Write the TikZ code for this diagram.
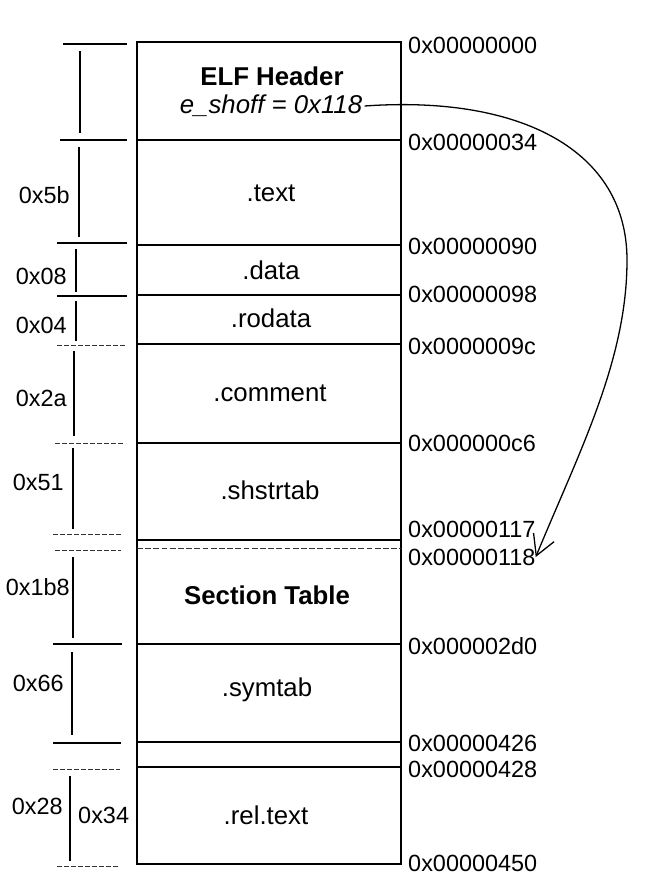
\documentclass[tikz,border=0pt]{standalone}
\usepackage{fontspec}
\setmainfont{Liberation Sans}
\usetikzlibrary{arrows.meta}
\begin{document}
\begin{tikzpicture}
    \def\dx{0.3mm}
    \def\dy{0.3mm}

    \useasboundingbox (0,0) rectangle (650*\dx,-881*\dy);

    \tikzstyle{sec}=[font=\fontsize{22}{26}\selectfont,align=center,inner sep=0pt]
    \tikzstyle{hdr}=[font=\fontsize{22}{26}\selectfont\bfseries,align=center,inner sep=0pt]
    \tikzstyle{addr}=[font=\fontsize{20}{24}\selectfont,anchor=west,inner sep=0pt]
    \tikzstyle{size}=[font=\fontsize{20}{24}\selectfont,anchor=east,inner sep=0pt]
    \tikzstyle{box}=[draw=black, line width=0.9pt]
    \tikzstyle{gap}=[draw=black!80, line width=0.8pt, dash pattern=on 5pt off 2pt]
    \tikzstyle{tick}=[draw=black, line width=0.9pt]
    \tikzstyle{dtick}=[draw=black!80, line width=0.8pt, dash pattern=on 4pt off 2pt]

    % the file
    \draw [box] (137*\dx,-42*\dy) rectangle (401*\dx,-864*\dy);
    \draw [box] (137*\dx,-140*\dy) -- (401*\dx,-140*\dy);
    \draw [box] (137*\dx,-245*\dy) -- (401*\dx,-245*\dy);
    \draw [box] (137*\dx,-295*\dy) -- (401*\dx,-295*\dy);
    \draw [box] (137*\dx,-344*\dy) -- (401*\dx,-344*\dy);
    \draw [box] (137*\dx,-443*\dy) -- (401*\dx,-443*\dy);
    \draw [box] (137*\dx,-540*\dy) -- (401*\dx,-540*\dy);
    \draw [gap] (137*\dx,-548*\dy) -- (401*\dx,-548*\dy);
    \draw [box] (137*\dx,-644*\dy) -- (401*\dx,-644*\dy);
    \draw [box] (137*\dx,-742*\dy) -- (401*\dx,-742*\dy);
    \draw [box] (137*\dx,-767*\dy) -- (401*\dx,-767*\dy);

    \node[hdr]  (elf) at (272*\dx,-76*\dy) {ELF Header};
    \node[sec,inner sep=2pt]  (shoff) at (271*\dx,-106*\dy) {\itshape e\_shoff = 0x118};
    \node[sec]  (text) at (271*\dx,-193*\dy) {.text};
    \node[sec]  (data) at (271*\dx,-270*\dy) {.data};
    \node[sec]  (rodata) at (271*\dx,-318*\dy) {.rodata};
    \node[sec]  (comment) at (270*\dx,-393*\dy) {.comment};
    \node[sec]  (shstrtab) at (270*\dx,-490*\dy) {.shstrtab};
    \node[hdr]  (sectab) at (267*\dx,-595*\dy) {Section Table};
    \node[sec]  (symtab) at (267*\dx,-690*\dy) {.symtab};
    \node[sec]  (reltext) at (266*\dx,-815*\dy) {.rel.text};

    % offsets
    \node[addr]  (a0) at (408*\dx,-45*\dy) {0x00000000};
    \node[addr]  (a34) at (408*\dx,-142*\dy) {0x00000034};
    \node[addr]  (a90) at (408*\dx,-246*\dy) {0x00000090};
    \node[addr]  (a98) at (408*\dx,-294*\dy) {0x00000098};
    \node[addr]  (a9c) at (408*\dx,-346*\dy) {0x0000009c};
    \node[addr]  (ac6) at (408*\dx,-443*\dy) {0x000000c6};
    \node[addr]  (a117) at (408*\dx,-529*\dy) {0x00000117};
    \node[addr]  (a118) at (408*\dx,-557*\dy) {0x00000118};
    \node[addr]  (a2d0) at (408*\dx,-646*\dy) {0x000002d0};
    \node[addr]  (a426) at (408*\dx,-743*\dy) {0x00000426};
    \node[addr]  (a428) at (408*\dx,-769*\dy) {0x00000428};
    \node[addr]  (a450) at (408*\dx,-863*\dy) {0x00000450};

    % sizes
    \draw [tick] (63*\dx,-44*\dy) -- (127*\dx,-44*\dy);
    \draw [tick] (60*\dx,-140*\dy) -- (127*\dx,-140*\dy);
    \draw [tick] (57*\dx,-243*\dy) -- (127*\dx,-243*\dy);
    \draw [tick] (57*\dx,-296*\dy) -- (127*\dx,-296*\dy);
    \draw [dtick] (57*\dx,-345*\dy) -- (125*\dx,-345*\dy);
    \draw [dtick] (55*\dx,-443*\dy) -- (123*\dx,-443*\dy);
    \draw [dtick] (53*\dx,-534*\dy) -- (123*\dx,-534*\dy);
    \draw [dtick] (55*\dx,-550*\dy) -- (121*\dx,-550*\dy);
    \draw [tick] (53*\dx,-644*\dy) -- (122*\dx,-644*\dy);
    \draw [tick] (53*\dx,-743*\dy) -- (121*\dx,-743*\dy);
    \draw [dtick] (53*\dx,-769*\dy) -- (120*\dx,-769*\dy);
    \draw [dtick] (57*\dx,-866*\dy) -- (120*\dx,-866*\dy);

    \draw [tick] (80*\dx,-51*\dy) -- (80*\dx,-133*\dy);
    \draw [tick] (79*\dx,-147*\dy) -- (79*\dx,-237*\dy);
    \draw [tick] (76*\dx,-249*\dy) -- (76*\dx,-292*\dy);
    \draw [tick] (76*\dx,-301*\dy) -- (76*\dx,-341*\dy);
    \draw [tick] (74*\dx,-351*\dy) -- (74*\dx,-436*\dy);
    \draw [tick] (73*\dx,-448*\dy) -- (73*\dx,-529*\dy);
    \draw [tick] (73*\dx,-557*\dy) -- (73*\dx,-638*\dy);
    \draw [tick] (72*\dx,-652*\dy) -- (72*\dx,-735*\dy);
    \draw [tick] (70*\dx,-776*\dy) -- (70*\dx,-861*\dy);

    \node[size]  (s5b) at (70*\dx,-195*\dy) {0x5b};
    \node[size]  (s08) at (67*\dx,-276*\dy) {0x08};
    \node[size]  (s04) at (67*\dx,-325*\dy) {0x04};
    \node[size]  (s2a) at (67*\dx,-398*\dy) {0x2a};
    \node[size]  (s51) at (64*\dx,-482*\dy) {0x51};
    \node[size]  (s1b8) at (70*\dx,-587*\dy) {0x1b8};
    \node[size]  (s66) at (64*\dx,-683*\dy) {0x66};
    \node[size]  (s28) at (63*\dx,-806*\dy) {0x28};
    \node[size,anchor=west]  (s34) at (78*\dx,-815*\dy) {0x34};

    \tikzstyle{ptr} = [draw=black, line width=1.1pt, -{Straight Barb[length=17pt,width=19pt,line width=1.1pt]}]

          \draw [ptr] (shoff.east) .. controls (520*\dx,-95*\dy) and (627*\dx,-150*\dy) .. (627*\dx,-260*\dy)
                .. controls (627*\dx,-360*\dy) and (580*\dx,-450*\dy) .. (a118.east);

  \end{tikzpicture}
\end{document}
